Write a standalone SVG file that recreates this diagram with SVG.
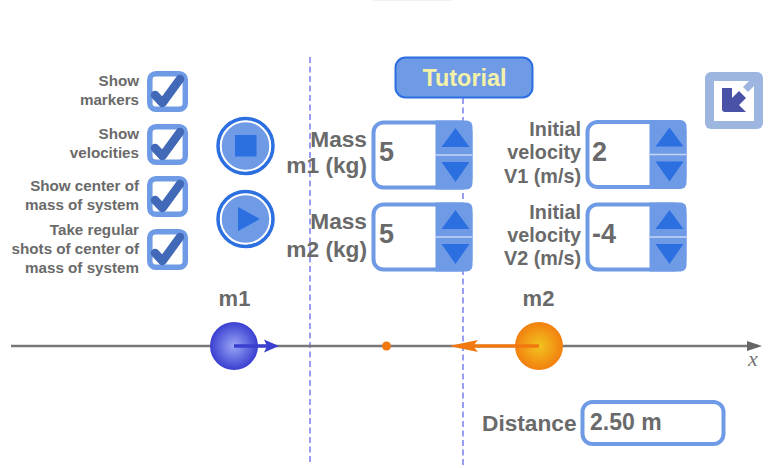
<svg xmlns="http://www.w3.org/2000/svg" width="768" height="468" viewBox="0 0 768 468">
<defs>
<radialGradient id="g1"><stop offset="0" stop-color="#9aa6f5"/><stop offset="1" stop-color="#3a3fd0"/></radialGradient>
<radialGradient id="g2"><stop offset="0" stop-color="#f2c41f"/><stop offset="1" stop-color="#f2800f"/></radialGradient>
<g id="chk"><rect x="2.800" y="2.800" width="35.500" height="35.500" rx="6" fill="#fff" stroke="#6f9be6" stroke-width="5.500"/><path d="M8 24 L15.500 32 L33 8" fill="none" stroke="#4169b8" stroke-width="8.500" stroke-linecap="round" stroke-linejoin="round"/></g>
<g id="spin"><rect x="2" y="2" width="97" height="65" rx="10" fill="#fff" stroke="#6f9be6" stroke-width="4"/><path d="M64 0H95a6 6 0 0 1 6 6V63a6 6 0 0 1-6 6H64Z" fill="#6f9be6"/><path d="M64 34.500H101" stroke="#c5d6f4" stroke-width="1.500"/><path d="M84 7.500L98 26.500H70Z M70 41.500H98L84 61.500Z" fill="#2b6fe0"/></g>
</defs>
<style>
text{font-family:"Liberation Sans",Arial,sans-serif;font-weight:bold;fill:#6a6a6a}
.s{font-size:15.200px;text-anchor:end}
.m{font-size:22.700px;text-anchor:end}
.v{font-size:19.800px;text-anchor:end}
.n{font-size:27px}
.d{stroke:#7a7ff0;stroke-width:1.500;stroke-dasharray:6 3.500;fill:none}
</style>
<rect x="373" y="0" width="79" height="1" fill="#f2f2f2"/>
<g id="connectors">
<path class="d" d="M310 57V465"/>
<path class="d" d="M463 98V465"/>
<path d="M11 346H758" stroke="#777" stroke-width="2.500"/>
<path d="M762 346L747 341V351Z" fill="#666"/>
<text x="753" y="366" style="font:italic 22px 'Liberation Serif',serif;fill:#777" text-anchor="middle">x</text>
</g>
<g id="chk-markers"><use href="#chk" x="147" y="71"/><text class="s" x="139" y="86">Show</text><text class="s" x="139" y="105">markers</text></g>
<g id="chk-velocities"><use href="#chk" x="147" y="124"/><text class="s" x="139" y="139">Show</text><text class="s" x="139" y="158">velocities</text></g>
<g id="chk-center"><use href="#chk" x="147" y="176"/><text class="s" x="139" y="191">Show center of</text><text class="s" x="139" y="210">mass of system</text></g>
<g id="chk-shots"><use href="#chk" x="147" y="229"/><text class="s" x="139" y="235">Take regular</text><text class="s" x="139" y="254">shots of center of</text><text class="s" x="139" y="273">mass of system</text></g>
<g id="btn-stop"><circle cx="245.500" cy="146" r="27.500" fill="none" stroke="#2b6fe0" stroke-width="3.500"/><circle cx="245.500" cy="146" r="24.500" fill="#6f9be6" stroke="#fff" stroke-width="1.500"/><rect x="235" y="135" width="21.500" height="21.500" fill="#2b6fe0"/></g>
<g id="btn-play"><circle cx="245.500" cy="219" r="27.500" fill="none" stroke="#2b6fe0" stroke-width="3.500"/><circle cx="245.500" cy="219" r="24.500" fill="#6f9be6" stroke="#fff" stroke-width="1.500"/><path d="M238 207L260 219L238 231Z" fill="#2b6fe0"/></g>
<g id="tutorial"><rect x="395.500" y="57.500" width="137" height="40" rx="10" fill="#6f9be6" stroke="#2b6fe0" stroke-width="2"/><text x="464.500" y="86" font-size="23.400" text-anchor="middle" style="fill:#f4f2a8">Tutorial</text></g>
<g id="icon"><rect x="705" y="72" width="58" height="57" rx="6" fill="#9db6e0"/><rect x="714" y="81" width="40" height="40" fill="#fff"/><path d="M754 76L743 87L748 92L754 86Z" fill="#9db6e0"/><path d="M722 88H732V98L739 91 746 98 739 105 746 112H725a3 3 0 0 1-3-3Z" fill="#4a52a8"/></g>
<g id="mass1"><use href="#spin" x="371.500" y="120.500"/><text class="m" x="367" y="147">Mass</text><text class="m" x="367" y="173">m1 (kg)</text><text class="n" x="379" y="161">5</text></g>
<g id="mass2"><use href="#spin" x="371.500" y="202.500"/><text class="m" x="367" y="229">Mass</text><text class="m" x="367" y="257">m2 (kg)</text><text class="n" x="379" y="243">5</text></g>
<g id="vel1"><use href="#spin" x="585.500" y="120"/><text class="v" x="581" y="136">Initial</text><text class="v" x="581" y="159">velocity</text><text class="v" x="581" y="183">V1 (m/s)</text><text class="n" x="592" y="161">2</text></g>
<g id="vel2"><use href="#spin" x="585.500" y="202.500"/><text class="v" x="581" y="219">Initial</text><text class="v" x="581" y="242">velocity</text><text class="v" x="581" y="265">V2 (m/s)</text><text class="n" x="592" y="243">-4</text></g>
<g id="m1"><text x="234.500" y="306" font-size="22" text-anchor="middle">m1</text><circle cx="234" cy="346" r="24" fill="url(#g1)"/><path d="M234 346H268" stroke="#3a3fd0" stroke-width="3.500"/><path d="M279 346L264 339.500L267 346L264 352.500Z" fill="#3a3fd0"/></g>
<g id="m2"><text x="538.500" y="306" font-size="22" text-anchor="middle">m2</text><circle cx="539" cy="346" r="24" fill="url(#g2)"/><path d="M539 346H460" stroke="#f0780f" stroke-width="3.500"/><path d="M449 346L478 340L473 346L478 352Z" fill="#f0780f"/></g>
<g id="com"><circle cx="386.500" cy="346" r="4.500" fill="#f0780f"/></g>
<g id="distance"><text x="482" y="431" font-size="22.700">Distance</text><rect x="582.500" y="402" width="141" height="42" rx="10" fill="#fff" stroke="#6f9be6" stroke-width="4"/><text x="590" y="430" font-size="23">2.50 m</text></g>
</svg>
